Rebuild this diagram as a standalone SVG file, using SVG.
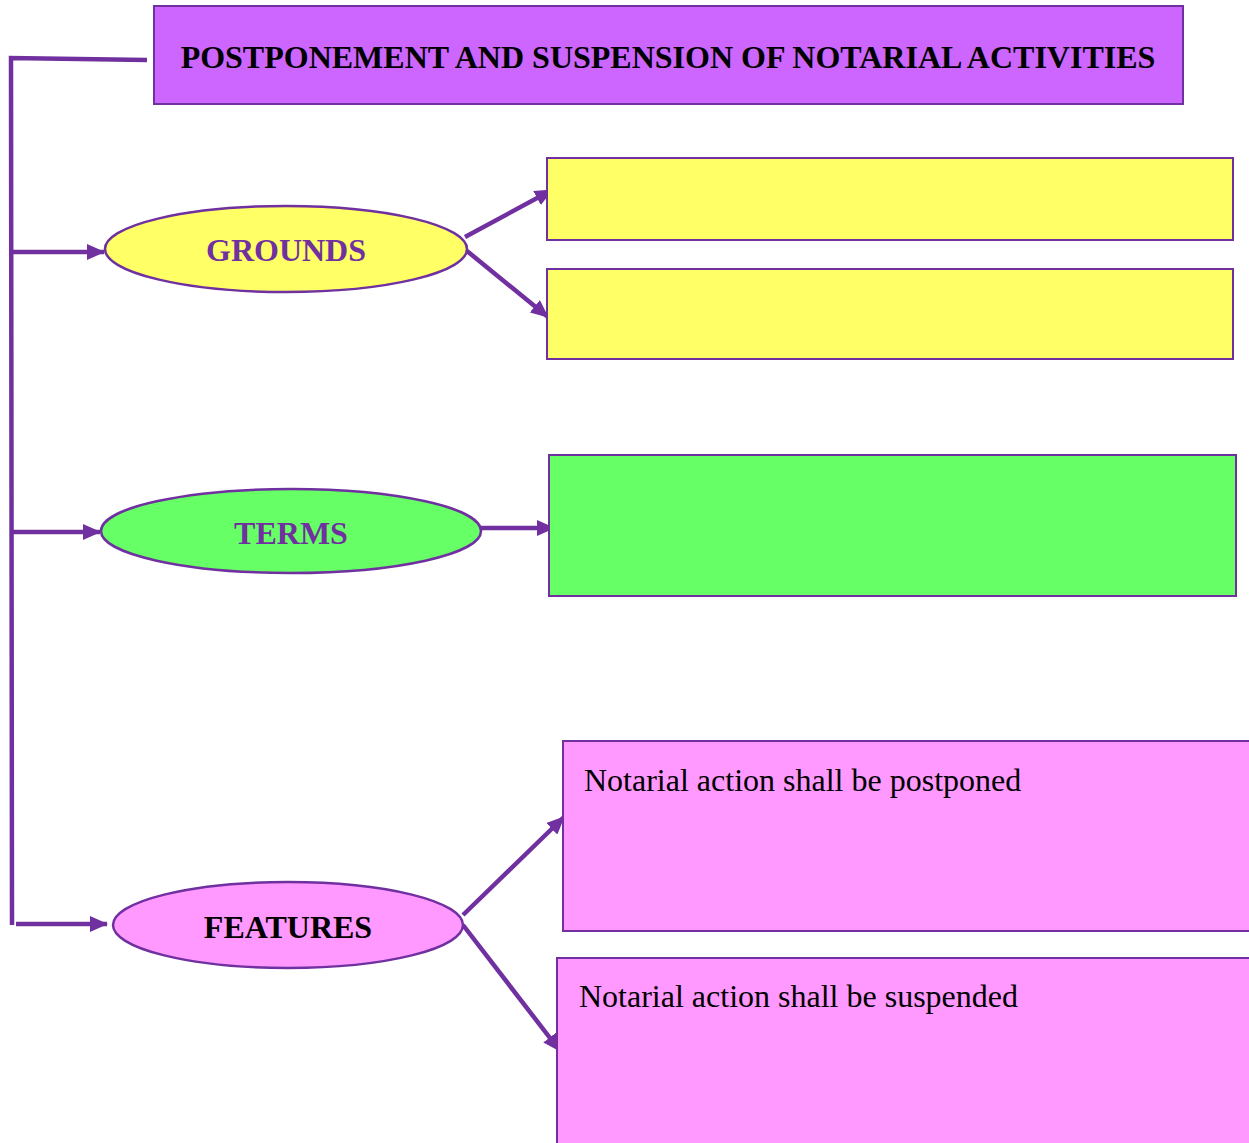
<svg xmlns="http://www.w3.org/2000/svg" width="1249" height="1143" viewBox="0 0 1249 1143">
<style>
.box{stroke:#7030A0;stroke-width:2}
.ell{stroke:#7030A0;stroke-width:2.5}
.con{stroke:#7030A0;stroke-width:4.5;fill:none}
.t{font-family:"Liberation Serif","Times New Roman",serif}
.b{font-weight:bold}
</style>
<defs>
<marker id="ah" markerWidth="18" markerHeight="16" refX="17" refY="8" orient="auto" markerUnits="userSpaceOnUse">
<path d="M0,0 L18,8 L0,16 Z" fill="#7030A0"/>
</marker>
</defs>
<rect width="1249" height="1143" fill="#fff"/>
<g id="connectors">
<polyline class="con" points="147,60 11,58 12,925"/>
<line class="con" x1="11" y1="252" x2="104" y2="252" marker-end="url(#ah)"/>
<line class="con" x1="11" y1="532" x2="100" y2="532" marker-end="url(#ah)"/>
<line class="con" x1="16" y1="924" x2="107" y2="924" marker-end="url(#ah)"/>
<line class="con" x1="465" y1="237" x2="552" y2="190" marker-end="url(#ah)"/>
<line class="con" x1="467" y1="251" x2="548" y2="317" marker-end="url(#ah)"/>
<line class="con" x1="481" y1="528" x2="554" y2="528" marker-end="url(#ah)"/>
<line class="con" x1="463" y1="915" x2="564" y2="817" marker-end="url(#ah)"/>
<line class="con" x1="463" y1="925" x2="560" y2="1051" marker-end="url(#ah)"/>
</g>
<g id="title">
<rect class="box" x="154" y="6" width="1029" height="98" fill="#CC66FF"/>
<text class="t b" x="668" y="68" font-size="32" text-anchor="middle" fill="#000">POSTPONEMENT AND SUSPENSION OF NOTARIAL ACTIVITIES</text>
</g>
<g id="grounds">
<ellipse class="ell" cx="286" cy="249" rx="181" ry="43" fill="#FFFF66"/>
<text class="t b" x="286" y="261" font-size="32" text-anchor="middle" fill="#7030A0">GROUNDS</text>
</g>
<g id="grounds-box1">
<rect class="box" x="547" y="158" width="686" height="82" fill="#FFFF66"/>
</g>
<g id="grounds-box2">
<rect class="box" x="547" y="269" width="686" height="90" fill="#FFFF66"/>
</g>
<g id="terms">
<ellipse class="ell" cx="291" cy="531" rx="190" ry="42" fill="#66FF66"/>
<text class="t b" x="291" y="544" font-size="32" text-anchor="middle" fill="#7030A0">TERMS</text>
</g>
<g id="terms-box">
<rect class="box" x="549" y="455" width="687" height="141" fill="#66FF66"/>
</g>
<g id="features">
<ellipse class="ell" cx="288" cy="925" rx="175" ry="43" fill="#FF99FF"/>
<text class="t b" x="288" y="938" font-size="32" text-anchor="middle" fill="#000">FEATURES</text>
</g>
<g id="features-box1">
<rect class="box" x="563" y="741" width="690" height="190" fill="#FF99FF"/>
<text class="t" x="584" y="791" font-size="32" fill="#000">Notarial action shall be postponed</text>
</g>
<g id="features-box2">
<rect class="box" x="557" y="958" width="696" height="190" fill="#FF99FF"/>
<text class="t" x="579" y="1007" font-size="32" fill="#000">Notarial action shall be suspended</text>
</g>
</svg>
